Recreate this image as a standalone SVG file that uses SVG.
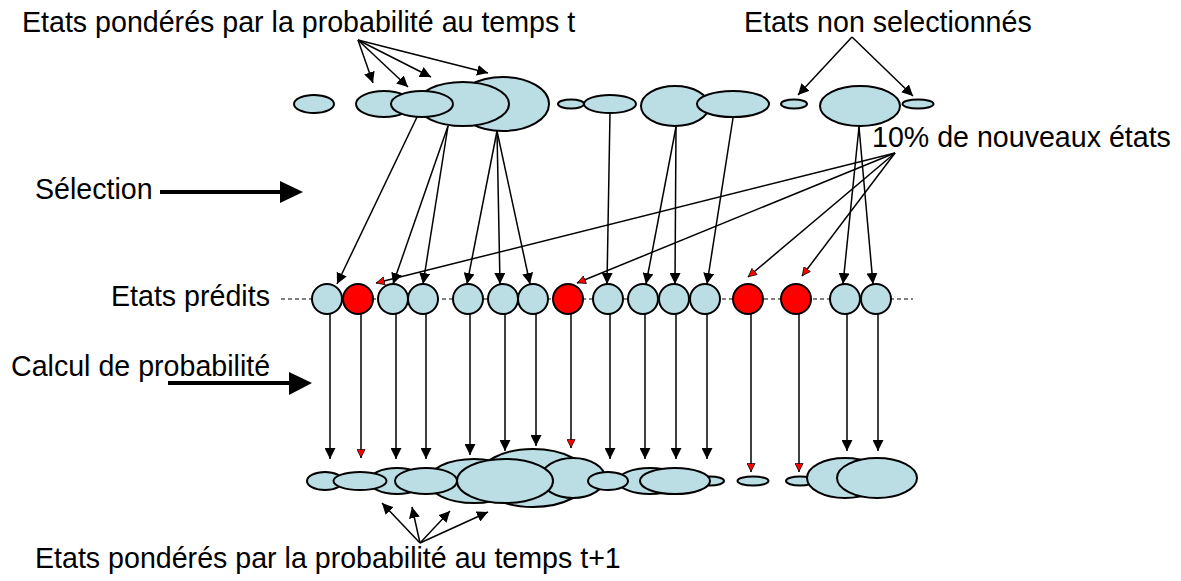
<svg xmlns="http://www.w3.org/2000/svg" width="1181" height="581" viewBox="0 0 1181 581">
<style>
.st{fill:#BADEE4;stroke:#000;stroke-width:2}
.rd{fill:#FF0000;stroke:#000;stroke-width:2}
.c{stroke:#000;stroke-width:1.5;fill:none}
.ab{marker-end:url(#mb)}
.ar{marker-end:url(#mr)}
text{font-family:"Liberation Sans",Arial,sans-serif;font-size:28.6px;fill:#000}
</style>
<defs>
<marker id="mb" viewBox="0 0 10 10" refX="10" refY="5" markerWidth="11" markerHeight="11" markerUnits="userSpaceOnUse" orient="auto"><path d="M0,0 L10,5 L0,10 z" fill="#000"/></marker>
<marker id="mr" viewBox="0 0 10 10" refX="10" refY="5" markerWidth="9" markerHeight="9" markerUnits="userSpaceOnUse" orient="auto"><path d="M0.5,0.5 L9.5,5 L0.5,9.5 z" fill="#FF0000" stroke="#000" stroke-width="0.8"/></marker>
</defs>
<rect width="1181" height="581" fill="#fff"/>
<g id="labels">
<text x="22" y="32">Etats pondérés par la probabilité au temps t</text>
<text x="744" y="32">Etats non selectionnés</text>
<text x="872" y="147">10% de nouveaux états</text>
<text x="35" y="199">Sélection</text>
<text x="111" y="306">Etats prédits</text>
<text x="11" y="376">Calcul de probabilité</text>
<text x="35" y="568">Etats pondérés par la probabilité au temps t+1</text>
</g>
<line x1="281" y1="299" x2="913" y2="299" stroke="#000" stroke-width="1" stroke-dasharray="4,3"/>
<g id="top-row">
<ellipse id="t1" class="st" cx="314" cy="104" rx="20" ry="9"/>
<ellipse id="t5" class="st" cx="503" cy="104" rx="46" ry="27"/>
<ellipse id="t4" class="st" cx="463" cy="104" rx="46" ry="22"/>
<ellipse id="t2" class="st" cx="384" cy="104" rx="28" ry="13"/>
<ellipse id="t3" class="st" cx="422" cy="104" rx="31" ry="13"/>
<ellipse id="t6" class="st" cx="571" cy="104" rx="13" ry="4.5"/>
<ellipse id="t7" class="st" cx="610" cy="104" rx="26" ry="9"/>
<ellipse id="t8" class="st" cx="675" cy="106" rx="34" ry="20"/>
<ellipse id="t9" class="st" cx="733" cy="104" rx="36" ry="13"/>
<ellipse id="t10" class="st" cx="794" cy="104" rx="13" ry="4.5"/>
<ellipse id="t11" class="st" cx="860" cy="106" rx="40" ry="20"/>
<ellipse id="t12" class="st" cx="918" cy="104" rx="15.5" ry="4.5"/>
</g>
<g id="mid-row">
<circle id="m1" class="st" cx="327" cy="299" r="15"/>
<circle id="m2" class="rd" cx="358" cy="299" r="15"/>
<circle id="m3" class="st" cx="393" cy="299" r="15"/>
<circle id="m4" class="st" cx="423" cy="299" r="15"/>
<circle id="m5" class="st" cx="468" cy="299" r="15"/>
<circle id="m6" class="st" cx="503" cy="299" r="15"/>
<circle id="m7" class="st" cx="533" cy="299" r="15"/>
<circle id="m8" class="rd" cx="568" cy="299" r="15"/>
<circle id="m9" class="st" cx="608" cy="299" r="15"/>
<circle id="m10" class="st" cx="643" cy="299" r="15"/>
<circle id="m11" class="st" cx="674" cy="299" r="15"/>
<circle id="m12" class="st" cx="705" cy="299" r="15"/>
<circle id="m13" class="rd" cx="748" cy="299" r="15"/>
<circle id="m14" class="rd" cx="796" cy="299" r="15"/>
<circle id="m15" class="st" cx="845" cy="299" r="15"/>
<circle id="m16" class="st" cx="876" cy="299" r="15"/>
</g>
<g id="bottom-row">
<ellipse id="b6" class="st" cx="533" cy="478" rx="55" ry="29"/>
<ellipse id="b5" class="st" cx="474" cy="481" rx="46" ry="22"/>
<ellipse id="b8" class="st" cx="573" cy="478" rx="32" ry="20"/>
<ellipse id="b10" class="st" cx="650" cy="481" rx="32" ry="13"/>
<ellipse id="b12" class="st" cx="710" cy="481" rx="14" ry="4.5"/>
<ellipse id="b14" class="st" cx="800" cy="481" rx="14" ry="4.5"/>
<ellipse id="b1" class="st" cx="325" cy="481" rx="18" ry="9"/>
<ellipse id="b3" class="st" cx="397" cy="481" rx="28" ry="13"/>
<ellipse id="b2" class="st" cx="360" cy="481" rx="26.5" ry="9"/>
<ellipse id="b4" class="st" cx="426" cy="481" rx="31" ry="13"/>
<ellipse id="b7" class="st" cx="505" cy="481" rx="48" ry="22"/>
<ellipse id="b9" class="st" cx="608" cy="481" rx="20" ry="9"/>
<ellipse id="b11" class="st" cx="675" cy="481" rx="35" ry="13"/>
<ellipse id="b13" class="st" cx="753" cy="481" rx="15.5" ry="4.5"/>
<ellipse id="b15" class="st" cx="845" cy="478" rx="38" ry="20"/>
<ellipse id="b16" class="st" cx="877" cy="478" rx="40" ry="20"/>
</g>
<g id="connectors">
<g class="c ab">
<line x1="358" y1="40" x2="373" y2="83"/>
<line x1="358" y1="40" x2="408" y2="87"/>
<line x1="358" y1="40" x2="431" y2="77"/>
<line x1="358" y1="40" x2="488" y2="73"/>
<line x1="852" y1="37" x2="798" y2="95"/>
<line x1="852" y1="37" x2="913" y2="96"/>
<line x1="417" y1="117" x2="337" y2="284"/>
<line x1="448" y1="126" x2="393" y2="284"/>
<line x1="448" y1="126" x2="423" y2="284"/>
<line x1="497" y1="131" x2="467" y2="284"/>
<line x1="497" y1="131" x2="500" y2="284"/>
<line x1="497" y1="131" x2="530" y2="284"/>
<line x1="610" y1="113" x2="607" y2="284"/>
<line x1="676" y1="127" x2="646" y2="284"/>
<line x1="676" y1="127" x2="675" y2="284"/>
<line x1="733" y1="118" x2="707" y2="284"/>
<line x1="859" y1="127" x2="843" y2="284"/>
<line x1="859" y1="127" x2="873" y2="284"/>
<line x1="330" y1="314" x2="330" y2="459"/>
<line x1="396" y1="314" x2="396" y2="459"/>
<line x1="426" y1="314" x2="426" y2="459"/>
<line x1="470" y1="314" x2="470" y2="455"/>
<line x1="505" y1="314" x2="505" y2="451"/>
<line x1="536" y1="314" x2="536" y2="446"/>
<line x1="610" y1="314" x2="610" y2="459"/>
<line x1="645" y1="314" x2="645" y2="459"/>
<line x1="676" y1="314" x2="676" y2="459"/>
<line x1="707" y1="314" x2="707" y2="459"/>
<line x1="847" y1="314" x2="847" y2="451"/>
<line x1="878" y1="314" x2="878" y2="451"/>
<line x1="420" y1="543" x2="382" y2="503"/>
<line x1="420" y1="543" x2="412" y2="507"/>
<line x1="420" y1="543" x2="450" y2="511"/>
<line x1="420" y1="543" x2="488" y2="512"/>
</g>
<g class="c ar">
<line x1="895" y1="153" x2="376" y2="283"/>
<line x1="895" y1="153" x2="577" y2="283"/>
<line x1="895" y1="153" x2="748" y2="277"/>
<line x1="895" y1="153" x2="802" y2="276"/>
<line x1="361" y1="314" x2="361" y2="458"/>
<line x1="571" y1="314" x2="571" y2="448"/>
<line x1="751" y1="314" x2="751" y2="472"/>
<line x1="799" y1="314" x2="799" y2="472"/>
</g>
<g id="thick-arrows">
<line x1="160" y1="192" x2="282" y2="192" stroke="#000" stroke-width="4"/>
<polygon points="280,181 303,192 280,203" fill="#000"/>
<line x1="168" y1="383" x2="291" y2="383" stroke="#000" stroke-width="4"/>
<polygon points="289,372 312,383 289,395" fill="#000"/>
</g>
</g>
</svg>
